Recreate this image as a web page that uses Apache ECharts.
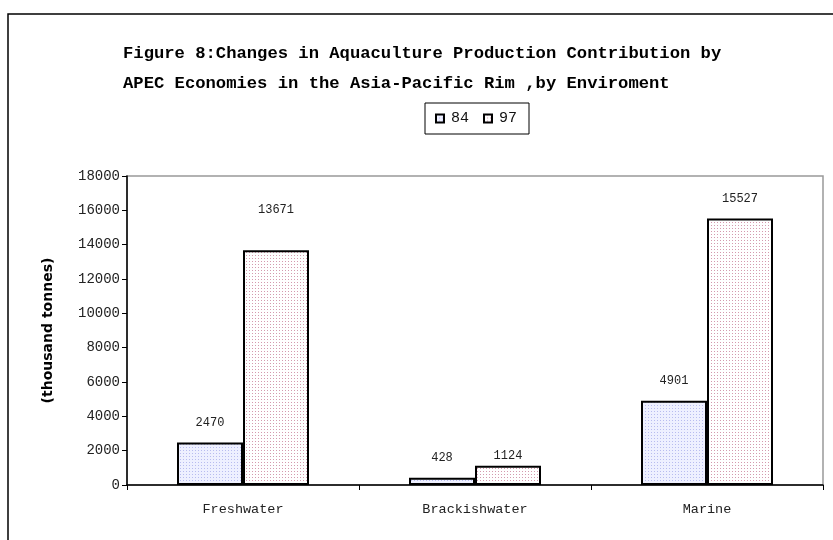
<!DOCTYPE html>
<html>
<head>
<meta charset="utf-8">
<script src="https://cdn.jsdelivr.net/npm/echarts@6/dist/echarts.min.js"></script>
<style>
  html, body { margin: 0; padding: 0; background: #fff; }
  #chart { width: 833px; height: 540px; }
</style>
</head>
<body>
<div id="chart"></div>
<script>
const categories = ['Freshwater', 'Brackishwater', 'Marine'];
const seriesNames = ['84', '97'];
const values84 = [2470, 428, 4901];
const values97 = [13671, 1124, 15527];
const yTicks = [0, 2000, 4000, 6000, 8000, 10000, 12000, 14000, 16000, 18000];

// the source places a couple of value labels off the usual spot
const labelShift97 = [-20, 10, 0];

// small dotted fill, like the old spreadsheet pattern
function dots(bg, dot) {
  const c = document.createElement('canvas');
  c.width = 3; c.height = 3;
  const ctx = c.getContext('2d');
  ctx.fillStyle = bg;
  ctx.fillRect(0, 0, 3, 3);
  ctx.fillStyle = dot;
  ctx.fillRect(0, 0, 1, 1);
  return c;
}

const mono = '"Liberation Mono", "DejaVu Sans Mono", monospace';

const valueLabel = {
  show: true,
  position: 'top',
  distance: 14,
  fontFamily: mono,
  fontSize: 12,
  color: '#222'
};

const chart = echarts.init(document.getElementById('chart'));

const option = {
  backgroundColor: '#fff',
  animation: false,
  title: {
    text: 'Figure 8:Changes in Aquaculture Production Contribution by\nAPEC Economies in the Asia-Pacific Rim ,by Enviroment',
    left: 118,
    top: 34,
    textStyle: {
      fontFamily: mono,
      fontWeight: 'bold',
      fontSize: 17.2,
      lineHeight: 30,
      color: '#000'
    }
  },
  legend: {
    data: seriesNames,
    icon: 'rect',
    left: 425,
    top: 103,
    padding: [8, 12, 8, 10],
    borderColor: '#000',
    borderWidth: 1,
    itemWidth: 8,
    itemHeight: 8,
    itemGap: 14,
    textStyle: { fontFamily: mono, fontSize: 15, color: '#111', padding: [0, 0, 0, 2] }
  },
  graphic: [
    {
      type: 'rect',
      shape: { x: 8, y: 14, width: 840, height: 540 },
      style: { fill: 'none', stroke: '#000', lineWidth: 1.5 },
      silent: true
    }
  ],
  grid: {
    left: 127,
    right: 10,
    top: 176,
    bottom: 55,
    show: true,
    borderColor: '#999',
    borderWidth: 1.5
  },
  xAxis: {
    type: 'category',
    data: categories,
    axisLine: { lineStyle: { color: '#000', width: 1.5 } },
    axisTick: { show: true, length: 5, lineStyle: { color: '#000' } },
    axisLabel: { fontFamily: mono, fontSize: 13.5, color: '#222', margin: 17 }
  },
  yAxis: {
    type: 'value',
    min: yTicks[0],
    max: yTicks[yTicks.length - 1],
    interval: yTicks[1] - yTicks[0],
    name: '(thousand tonnes)',
    nameLocation: 'middle',
    nameGap: 72,
    nameTextStyle: {
      fontFamily: '"DejaVu Sans", sans-serif',
      fontWeight: 'bold',
      fontSize: 14,
      color: '#000'
    },
    axisLine: { show: true, lineStyle: { color: '#000', width: 1.5 } },
    axisTick: { show: true, length: 5, lineStyle: { color: '#000' } },
    splitLine: { show: false },
    axisLabel: {
      fontFamily: mono,
      fontSize: 14,
      color: '#222',
      margin: 7,
      formatter: v => String(v)
    }
  },
  series: [
    {
      name: seriesNames[0],
      type: 'bar',
      data: values84,
      barWidth: 66,
      barGap: '0%',
      itemStyle: {
        color: { image: dots('#eef0ff', '#b8bcef'), repeat: 'repeat' },
        borderColor: '#000',
        borderWidth: 2
      },
      label: valueLabel
    },
    {
      name: seriesNames[1],
      type: 'bar',
      data: values97.map((v, i) => ({
        value: v,
        label: { offset: [0, labelShift97[i]] }
      })),
      barWidth: 66,
      itemStyle: {
        color: { image: dots('#fff', '#d49aae'), repeat: 'repeat' },
        borderColor: '#000',
        borderWidth: 2
      },
      label: valueLabel
    }
  ]
};

chart.setOption(option);
</script>
</body>
</html>
